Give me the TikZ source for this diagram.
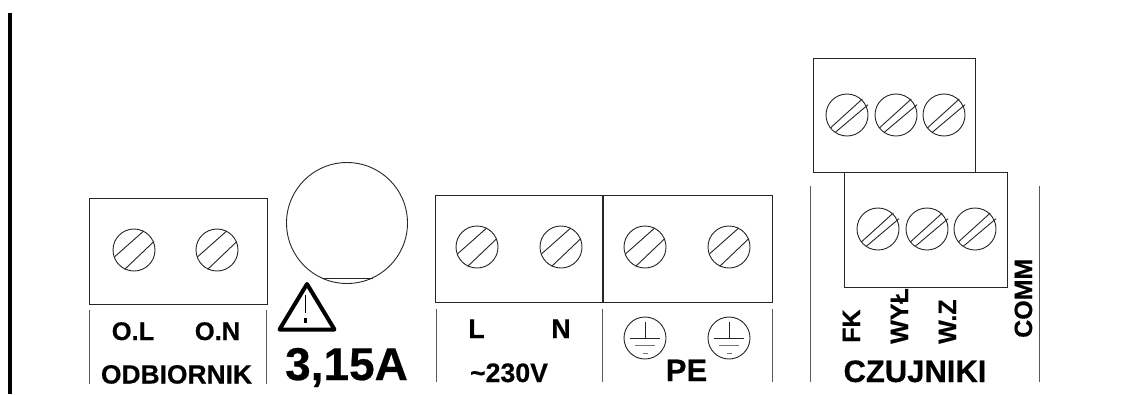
\documentclass[tikz,border=0pt]{standalone}
\usepackage{fontspec}
\setmainfont[BoldFeatures={FakeBold=0.5}]{Liberation Sans}
\tikzset{
  x=1pt,y=-1pt,
  ln/.style={line width=0.9pt,draw=black!85},
  sep/.style={line width=0.9pt,draw=black!65},
  lbl/.style={inner sep=0pt,anchor=base,font=\fontsize{#1}{#1}\selectfont\bfseries},
  vlbl/.style={inner sep=0pt,anchor=base west,rotate=90,font=\fontsize{#1}{#1}\selectfont\bfseries},
}
\newcommand{\myscrew}[2]{%
  \begin{scope}[shift={(#1,#2)}]
    \draw[ln] (0,0) circle[radius=21];
    \draw[ln] (-19.3,6.7) -- (9.7,-19);
    \draw[ln] (-9.3,19.3) -- (19.7,-8.3);
  \end{scope}}
\newcommand{\myscrewn}[2]{%
  \begin{scope}[shift={(#1,#2)}]
    \draw[ln] (0,0) circle[radius=21];
    \draw[ln] (-16.7,13) -- (15.3,-16);
    \draw[ln] (-11.7,17.3) -- (21,-10.3);
  \end{scope}}
\newcommand{\myearth}[2]{%
  \begin{scope}[shift={(#1,#2)}]
    \draw[ln] (0,0) circle[radius=21];
    \draw[ln] (0,-16) -- (0,0);
    \draw[ln] (-15,0) -- (15,0);
    \draw[line width=0.9pt,draw=black!55] (-10,7.5) -- (10,7.5);
    \draw[line width=0.9pt,draw=black!55] (-2.5,15) -- (2.5,15);
  \end{scope}}
\begin{document}
\begin{tikzpicture}
\useasboundingbox (0,0) rectangle (1145,394);
\fill[white] (0,0) rectangle (1145,394);
% left bar
\draw[line width=4pt] (10,12.5) -- (10,394);
% ODBIORNIK
\draw[ln] (89,198) rectangle (267,304.5);
\myscrew{134}{250}\myscrew{217}{250}
\draw[sep] (89,310) -- (89,384);
\draw[sep] (266,310) -- (266,384);
\node[lbl=25.5] (ol) at (133,340) {O.L};
\node[lbl=25.5] (on) at (217.5,340) {O.N};
\node[lbl=26.4] (odb) at (176.5,383.5) {ODBIORNIK};
% fuse
\draw[ln] (347,223) circle[radius=60.5];
\draw[ln] (322,278.7) -- (373,278.7);
\draw[line width=4pt,line join=round] (307,284) -- (334.5,329.5) -- (279.5,329.5) -- cycle;
\draw[line width=1.4pt] (305.5,295) -- (305.5,313);
\draw[line width=2.2pt] (305.5,317.5) -- (305.5,323);
\node[lbl=46] (fuse) at (346.5,380) {3,15A};
% 230V
\draw[ln] (435.5,195.5) rectangle (602,302);
\myscrew{477}{247}\myscrew{561}{247}
\draw[sep] (436,309) -- (436,382);
\draw[sep] (602,309) -- (602,382);
\node[lbl=27] (l) at (476.5,338) {L};
\node[lbl=27] (n) at (561,338) {N};
\node[lbl=26.7] (v) at (509,382) {\char"007E 230V};
% PE
\draw[ln] (603.5,195.5) rectangle (772,302);
\myscrew{645}{247}\myscrew{729}{247}
\draw[sep] (772,309) -- (772,382);
\myearth{645}{338}\myearth{729}{338}
\node[lbl=31] (pe) at (686.5,381) {PE};
% CZUJNIKI
\draw[sep] (810,186) -- (810,382);
\draw[sep] (1039,186) -- (1039,382);
\draw[ln] (813,58) rectangle (975,172);
\myscrewn{847}{115}\myscrewn{896}{115}\myscrewn{944}{115}
\draw[ln] (844,172) rectangle (1007,287);
\myscrewn{878}{229}\myscrewn{927}{229}\myscrewn{975}{229}
\node[vlbl=25] (fk) at (860,343) {FK};
\node[vlbl=25] (wyl) at (908,344) {WYŁ};
\node[vlbl=25] (wz) at (956,344) {W.Z};
\node[vlbl=25] (comm) at (1032,338) {COMM};
\node[lbl=31] (cz) at (915,382) {CZUJNIKI};
\end{tikzpicture}
\end{document}
